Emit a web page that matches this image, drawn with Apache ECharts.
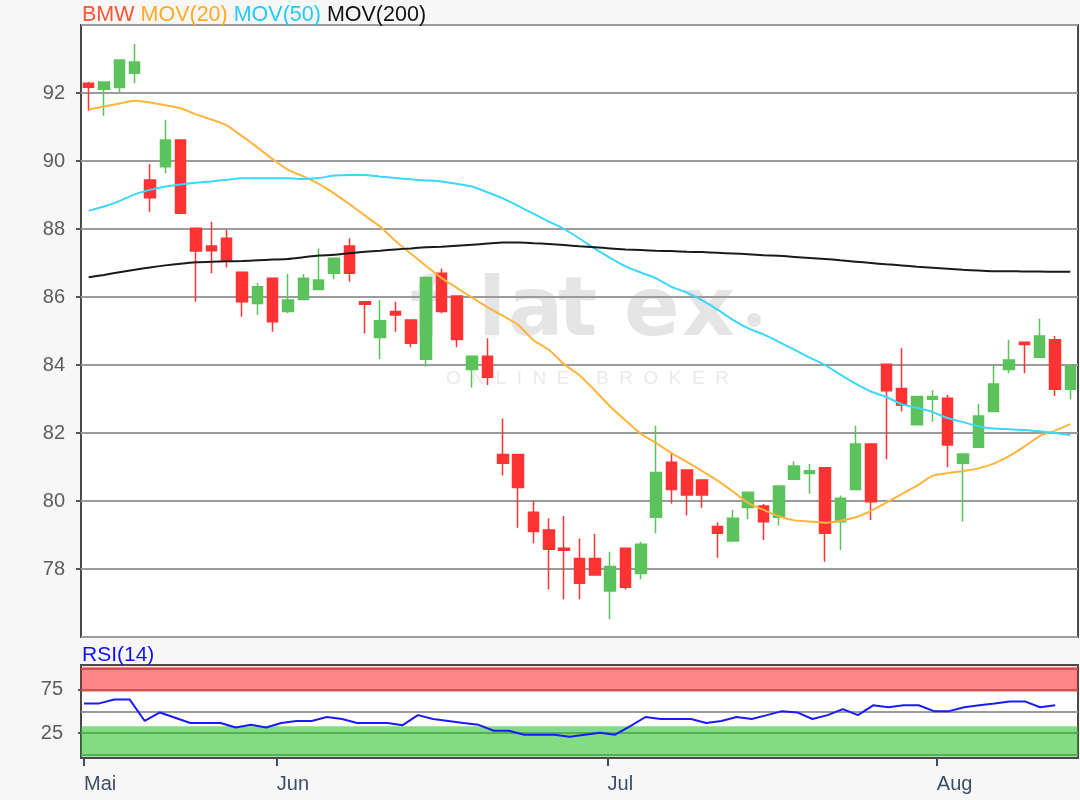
<!DOCTYPE html>
<html>
<head>
<meta charset="utf-8">
<title>BMW</title>
<script src="https://cdn.jsdelivr.net/npm/echarts@6.0.0/dist/echarts.min.js"></script>
<style>
html, body { margin: 0; padding: 0; background: #f7f7f7; }
#chart { width: 1080px; height: 800px; }
</style>
</head>
<body>
<div id="chart"></div>
<script>
// Handelstage 15.05. - 13.08.
var dates = [
  '15.05', '16.05', '17.05', '18.05', '21.05', '22.05', '23.05', '24.05', '25.05', '28.05', '29.05', '30.05', '31.05',
  '01.06', '04.06', '05.06', '06.06', '07.06', '08.06', '11.06', '12.06', '13.06', '14.06', '15.06', '18.06', '19.06',
  '20.06', '21.06', '22.06', '25.06', '26.06', '27.06', '28.06', '29.06',
  '02.07', '03.07', '04.07', '05.07', '06.07', '09.07', '10.07', '11.07', '12.07', '13.07', '16.07', '17.07', '18.07',
  '19.07', '20.07', '23.07', '24.07', '25.07', '26.07', '27.07', '30.07', '31.07',
  '01.08', '02.08', '03.08', '06.08', '07.08', '08.08', '09.08', '10.08', '13.08'
];

var opens = [
  92.29, 92.11, 92.16, 92.58, 89.44, 89.83, 90.62, 88.02, 87.50, 87.73, 86.73, 85.81, 86.55,
  85.57, 85.93, 86.22, 86.70, 87.50, 85.86, 84.81, 85.57, 85.32, 84.17, 86.70, 86.03, 83.87,
  84.26, 81.37, 81.37, 79.67, 79.15, 78.61, 78.31, 78.31,
  77.35, 78.61, 77.87, 79.52, 81.14, 80.91, 80.62, 79.25, 78.82, 79.81, 79.85, 79.52, 80.64,
  80.81, 80.98, 79.39, 80.34, 81.68, 84.02, 83.31, 82.24, 82.99,
  83.02, 81.11, 81.58, 82.63, 83.87, 84.67, 84.23, 84.74, 83.29
];
var closes = [
  92.17, 92.32, 92.97, 92.91, 88.92, 90.62, 88.46, 87.35, 87.36, 87.09, 85.86, 86.30, 85.27,
  85.91, 86.55, 86.50, 87.14, 86.70, 85.79, 85.30, 85.47, 84.64, 86.57, 85.57, 84.75, 84.26,
  83.64, 81.11, 80.40, 79.10, 78.58, 78.55, 77.58, 77.82,
  78.07, 77.46, 78.73, 80.84, 80.34, 80.18, 80.18, 79.05, 79.49, 80.26, 79.39, 80.44, 81.03,
  80.89, 79.05, 80.08, 81.68, 79.98, 83.24, 82.82, 83.07, 83.07,
  81.65, 81.38, 82.50, 83.44, 84.15, 84.60, 84.85, 83.29, 83.97
];
var lows = [
  91.48, 91.33, 92.01, 92.29, 88.51, 89.64, 88.44, 85.86, 86.70, 86.87, 85.42, 85.47, 84.98,
  85.52, 85.91, 86.20, 86.52, 86.45, 84.93, 84.17, 84.98, 84.52, 83.95, 85.52, 84.52, 83.34,
  83.41, 80.75, 79.21, 78.76, 77.40, 77.11, 77.11, 77.80,
  76.52, 77.40, 77.70, 79.05, 79.93, 79.57, 79.80, 78.33, 78.80, 79.46, 78.85, 79.27, 80.62,
  80.21, 78.21, 78.56, 80.32, 79.44, 81.23, 82.63, 82.22, 82.33,
  80.99, 79.39, 81.56, 82.61, 83.76, 83.76, 84.21, 83.09, 82.99
];
var highs = [
  92.33, 92.34, 92.99, 93.44, 89.91, 91.21, 90.64, 88.04, 88.21, 87.97, 86.75, 86.42, 86.57,
  86.68, 86.68, 87.43, 87.16, 87.73, 85.88, 85.91, 85.86, 85.34, 86.60, 86.84, 86.05, 84.28,
  84.79, 82.43, 81.39, 80.01, 79.49, 79.56, 78.90, 79.03,
  78.51, 78.63, 78.80, 82.21, 81.40, 80.93, 80.64, 79.37, 79.74, 80.28, 79.91, 80.46, 81.16,
  81.09, 81.00, 80.16, 82.21, 81.70, 84.04, 84.49, 83.09, 83.26,
  83.12, 81.40, 82.85, 84.00, 84.74, 84.69, 85.37, 84.85, 83.99
];

var mov20 = [
  91.52, 91.60, 91.69, 91.77, 91.72, 91.64, 91.55, 91.37, 91.22, 91.05, 90.73, 90.40, 90.05,
  89.74, 89.55, 89.33, 89.05, 88.73, 88.40, 88.07, 87.65, 87.28, 86.91, 86.56, 86.27, 85.98,
  85.70, 85.45, 85.18, 84.73, 84.45, 84.02, 83.70, 83.25,
  82.78, 82.37, 81.98, 81.70, 81.41, 81.15, 80.88, 80.60, 80.28, 79.94, 79.74, 79.55, 79.43,
  79.40, 79.36, 79.42, 79.52, 79.71, 79.95, 80.20, 80.45, 80.74,
  80.82, 80.88, 80.96, 81.10, 81.32, 81.60, 81.91, 82.07, 82.26
];
var mov50 = [
  88.54, 88.66, 88.82, 89.02, 89.15, 89.25, 89.31, 89.36, 89.40, 89.45, 89.49, 89.49, 89.49,
  89.49, 89.47, 89.50, 89.57, 89.59, 89.59, 89.54, 89.50, 89.46, 89.43, 89.40, 89.33, 89.25,
  89.08, 88.90, 88.68, 88.45, 88.22, 88.00, 87.72, 87.42,
  87.15, 86.90, 86.72, 86.55, 86.30, 86.13, 85.90, 85.63, 85.33, 85.08, 84.90, 84.68, 84.45,
  84.22, 84.00, 83.72, 83.45, 83.22, 83.06, 82.85, 82.74, 82.62,
  82.44, 82.32, 82.20, 82.13, 82.11, 82.09, 82.05, 82.00, 81.94
];
var mov200 = [
  86.58, 86.65, 86.73, 86.80, 86.87, 86.93, 86.98, 87.02, 87.04, 87.05, 87.06, 87.08, 87.10,
  87.12, 87.17, 87.22, 87.24, 87.29, 87.33, 87.36, 87.40, 87.43, 87.46, 87.48, 87.51, 87.54,
  87.57, 87.60, 87.60, 87.58, 87.56, 87.53, 87.49, 87.46,
  87.43, 87.40, 87.38, 87.36, 87.35, 87.33, 87.32, 87.30, 87.28, 87.26, 87.23, 87.21, 87.18,
  87.15, 87.12, 87.08, 87.04, 87.00, 86.96, 86.93, 86.89, 86.86,
  86.83, 86.80, 86.78, 86.76, 86.76, 86.75, 86.75, 86.74, 86.74
];

var rsi = [
  59.4, 59.4, 64.0, 64.0, 39.0, 48.9, 42.8, 36.7, 36.7, 36.7, 31.4, 34.5, 31.4,
  36.7, 39.0, 39.0, 43.6, 41.3, 36.7, 36.7, 36.7, 34.1, 45.8, 41.3, 39.0, 36.7,
  34.5, 27.7, 27.7, 23.1, 23.1, 23.1, 20.8, 23.1,
  25.4, 23.1, 33.0, 43.6, 41.3, 41.3, 41.3, 36.7, 39.0, 43.6, 41.3, 45.8, 50.4,
  48.9, 41.3, 45.8, 52.7, 45.8, 57.2, 54.9, 57.2, 57.2,
  50.4, 50.4, 54.9, 57.2, 59.4, 61.7, 61.7, 54.9, 57.2
];
var rsiTicks = [25, 75];

// Monatsmarken auf der RSI-Zeitachse
var monthPos = [0, 12.7, 34.5, 56.2];
var monthLabels = ['Mai', 'Jun', 'Jul', 'Aug'];

var UP = '#5cc35c';
var DOWN = '#ff3333';
var WM = '#e5e5e5';

var candles = opens.map(function (o, i) {
  return [o, closes[i], lows[i], highs[i]];
});
var rsiData = rsi.map(function (v, i) {
  return [i, v];
});

var chart = echarts.init(document.getElementById('chart'));

var option = {
  animation: false,
  backgroundColor: '#f7f7f7',
  textStyle: { fontFamily: 'Liberation Sans' },
  title: [
    {
      left: 82,
      top: 4,
      padding: 0,
      text: '{r|BMW} {o|MOV(20)} {c|MOV(50)} {k|MOV(200)}',
      textStyle: {
        fontSize: 21.5,
        fontWeight: 'normal',
        color: '#111',
        rich: {
          r: { fontSize: 21.5, color: '#ff5533' },
          o: { fontSize: 21.5, color: '#ffaa22' },
          c: { fontSize: 21.5, color: '#22ccf5' },
          k: { fontSize: 21.5, color: '#111111' }
        }
      }
    },
    {
      left: 82,
      top: 645,
      padding: 0,
      text: 'RSI(14)',
      textStyle: { fontSize: 21, fontWeight: 'normal', color: '#1010ff' }
    }
  ],
  graphic: [
    {
      type: 'group',
      silent: true,
      z: 1,
      children: [
        { type: 'text', x: 410, y: 314, style: { text: 'f', font: 'bold 82px "DejaVu Sans"', fill: WM, verticalAlign: 'middle' } },
        { type: 'text', x: 478, y: 314, style: { text: 'l', font: 'bold 82px "DejaVu Sans"', fill: WM, verticalAlign: 'middle' } },
        { type: 'text', x: 508, y: 314, style: { text: 'a', font: 'bold 82px "DejaVu Sans"', fill: WM, verticalAlign: 'middle' } },
        { type: 'text', x: 558, y: 314, style: { text: 't', font: 'bold 82px "DejaVu Sans"', fill: WM, verticalAlign: 'middle' } },
        { type: 'text', x: 624, y: 314, style: { text: 'e', font: 'bold 82px "DejaVu Sans"', fill: WM, verticalAlign: 'middle' } },
        { type: 'text', x: 682, y: 314, style: { text: 'x', font: 'bold 82px "DejaVu Sans"', fill: WM, verticalAlign: 'middle' } },
        { type: 'circle', shape: { cx: 754, cy: 320, r: 7 }, style: { fill: WM } },
        { type: 'text', x: 446, y: 379, style: { text: 'O  N  L  I  N  E     B  R  O  K  E  R', font: '19px "Liberation Sans"', fill: '#eaeaea', verticalAlign: 'middle' } }
      ]
    }
  ],
  grid: [
    { left: 81, right: 2, top: 25, height: 612, show: true, backgroundColor: '#ffffff', borderColor: '#4a4a4a', borderWidth: 2 },
    { left: 81, right: 2, top: 665, height: 93, show: true, backgroundColor: '#ffffff', borderColor: '#4a4a4a', borderWidth: 2 }
  ],
  xAxis: [
    {
      type: 'category',
      gridIndex: 0,
      data: dates,
      boundaryGap: true,
      axisLine: { show: false, onZero: false },
      axisTick: { show: false },
      axisLabel: { show: false },
      splitLine: { show: false }
    },
    {
      type: 'value',
      gridIndex: 1,
      min: -0.2,
      max: 65.5,
      axisLine: { show: false, onZero: false },
      splitLine: { show: false },
      axisTick: {
        show: true,
        customValues: monthPos,
        length: 8,
        lineStyle: { color: '#3b4f66', width: 2 }
      },
      axisLabel: {
        show: true,
        customValues: monthPos,
        align: 'left',
        margin: 16,
        fontSize: 20,
        color: '#3b4f66',
        formatter: function (v) {
          var k = monthPos.indexOf(v);
          return k >= 0 ? monthLabels[k] : '';
        }
      }
    }
  ],
  yAxis: [
    {
      type: 'value',
      gridIndex: 0,
      min: 76,
      max: 94,
      interval: 2,
      z: 2,
      axisLine: { show: false },
      axisTick: { show: true, length: 5, lineStyle: { color: '#555', width: 2 } },
      axisLabel: { showMinLabel: false, showMaxLabel: false, fontSize: 20, color: '#5c5c5c', margin: 16 },
      splitLine: { show: true, lineStyle: { color: '#9b9b9b', width: 2 } }
    },
    {
      type: 'value',
      gridIndex: 1,
      min: -4,
      max: 104,
      axisLine: { show: false },
      splitLine: { show: false },
      axisTick: { show: true, customValues: rsiTicks, length: 6, lineStyle: { color: '#555', width: 2 } },
      axisLabel: { customValues: rsiTicks, fontSize: 20, color: '#5c5c5c', margin: 18 }
    }
  ],
  series: [
    {
      name: 'BMW',
      type: 'candlestick',
      xAxisIndex: 0,
      yAxisIndex: 0,
      z: 3,
      barWidth: 11,
      data: candles,
      itemStyle: {
        color: UP,
        color0: DOWN,
        borderColor: UP,
        borderColor0: DOWN,
        borderWidth: 1.5
      }
    },
    {
      name: 'MOV(20)',
      type: 'line',
      xAxisIndex: 0,
      yAxisIndex: 0,
      z: 4,
      data: mov20,
      showSymbol: false,
      smooth: 0.2,
      lineStyle: { color: '#ffb43c', width: 2 }
    },
    {
      name: 'MOV(50)',
      type: 'line',
      xAxisIndex: 0,
      yAxisIndex: 0,
      z: 4,
      data: mov50,
      showSymbol: false,
      smooth: 0.2,
      lineStyle: { color: '#3cd7fa', width: 2 }
    },
    {
      name: 'MOV(200)',
      type: 'line',
      xAxisIndex: 0,
      yAxisIndex: 0,
      z: 4,
      data: mov200,
      showSymbol: false,
      smooth: 0.2,
      lineStyle: { color: '#1a1a1a', width: 2 }
    },
    {
      name: 'RSI(14)',
      type: 'line',
      xAxisIndex: 1,
      yAxisIndex: 1,
      z: 10,
      data: rsiData,
      showSymbol: false,
      lineStyle: { color: '#1a1aff', width: 2 },
      markLine: {
        silent: true,
        symbol: 'none',
        z: 5,
        label: { show: false },
        lineStyle: { color: '#9b9b9b', width: 2, type: 'solid' },
        data: [{ yAxis: 0 }, { yAxis: 25 }, { yAxis: 50 }, { yAxis: 75 }, { yAxis: 100 }]
      },
      markArea: {
        silent: true,
        z: 6,
        data: [
          [{ yAxis: 73, itemStyle: { color: 'rgba(255,0,0,0.47)' } }, { yAxis: 102 }],
          [{ yAxis: -2.5, itemStyle: { color: 'rgba(30,190,30,0.55)' } }, { yAxis: 33 }]
        ]
      }
    }
  ]
};

chart.setOption(option);
</script>
</body>
</html>
